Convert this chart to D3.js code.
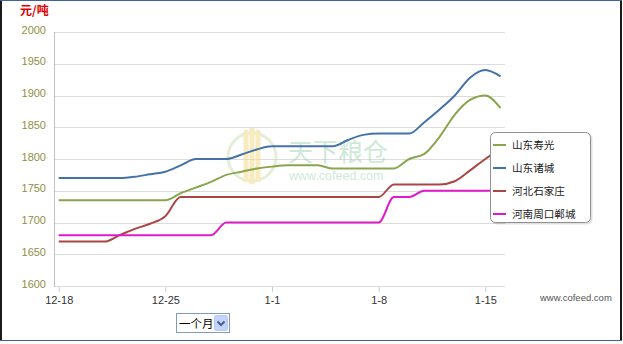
<!DOCTYPE html>
<html>
<head>
<meta charset="utf-8">
<script src="https://cdn.jsdelivr.net/npm/d3@7/dist/d3.min.js"></script>
<style>
    body { margin: 0; background: #fff; }
    text { font-family: "Liberation Sans", Arial, sans-serif; }
    .cjk { font-family: "Noto Sans CJK SC", "Noto Sans", sans-serif; }
</style>
</head>
<body>
<script>
//SVG dimension variables
var w = 623, h = 344;

//daily dates, 12-18 to 1-16
var dates = ["2012-12-18","2012-12-19","2012-12-20","2012-12-21","2012-12-22","2012-12-23","2012-12-24","2012-12-25",
    "2012-12-26","2012-12-27","2012-12-28","2012-12-29","2012-12-30","2012-12-31","2013-01-01","2013-01-02",
    "2013-01-03","2013-01-04","2013-01-05","2013-01-06","2013-01-07","2013-01-08","2013-01-09","2013-01-10",
    "2013-01-11","2013-01-12","2013-01-13","2013-01-14","2013-01-15","2013-01-16"];

//series names and values (元/吨)
var seriesNames = ["山东寿光", "山东诸城", "河北石家庄", "河南周口郸城"];
var shouguang = [1735,1735,1735,1735,1735,1735,1735,1735,1746,1755,1764,1775,1780,1785,1788,1790,
    1790,1790,1785,1785,1785,1785,1785,1800,1808,1835,1870,1893,1900,1880];
var zhucheng = [1770,1770,1770,1770,1770,1772,1776,1780,1790,1800,1800,1800,1807,1815,1820,1820,
    1820,1820,1820,1830,1838,1840,1840,1840,1858,1878,1900,1928,1940,1930];
var shijiazhuang = [1670,1670,1670,1670,1680,1690,1698,1710,1740,1740,1740,1740,1740,1740,1740,1740,
    1740,1740,1740,1740,1740,1740,1760,1760,1760,1760,1765,1782,1800,1815];
var zhoukou = [1680,1680,1680,1680,1680,1680,1680,1680,1680,1680,1680,1700,1700,1700,1700,1700,
    1700,1700,1700,1700,1700,1700,1740,1740,1750,1750,1750,1750,1750,1752];
var seriesValues = [shouguang, zhucheng, shijiazhuang, zhoukou];
var seriesColors = ["#89A54E", "#4572A7", "#AA4643", "#E01ACB"];

//tick labels
var yTicks = [1600,1650,1700,1750,1800,1850,1900,1950,2000];
var xTicks = ["2012-12-18","2012-12-25","2013-01-01","2013-01-08","2013-01-15"];

window.onload = function(){
    var parse = d3.timeParse("%Y-%m-%d");

    var svg = d3.select("body")
        .append("svg")
        .attr("width", w)
        .attr("height", h);

    //outer frame
    svg.append("line").attr("x1", 1).attr("x2", 1).attr("y1", 0).attr("y2", 341)
        .style("stroke", "#1a1a1a").style("stroke-width", 2);
    svg.append("line").attr("x1", 621).attr("x2", 621).attr("y1", 0).attr("y2", 341)
        .style("stroke", "#1a1a1a").style("stroke-width", 2);
    svg.append("line").attr("x1", 0).attr("x2", 622).attr("y1", 0.5).attr("y2", 0.5)
        .style("stroke", "#3d62a0");
    svg.append("line").attr("x1", 0).attr("x2", 622).attr("y1", 340.5).attr("y2", 340.5)
        .style("stroke", "#3d62a0");

    //scales
    var x = d3.scaleTime()
        .domain([parse("2012-12-18"), parse("2013-01-15")])
        .range([58.7, 485.3]);
    var y = d3.scaleLinear()
        .domain([1600, 2000])
        .range([286, 32]);

    //grid lines
    svg.append("g")
        .selectAll("line")
        .data(yTicks)
        .enter()
        .append("line")
        .attr("x1", 54)
        .attr("x2", 505)
        .attr("y1", function(d){ return Math.round(y(d)) + 0.5; })
        .attr("y2", function(d){ return Math.round(y(d)) + 0.5; })
        .style("stroke", "#dcdcdc");

    //y axis
    var yAxis = d3.axisLeft(y)
        .tickValues(yTicks)
        .tickFormat(d3.format("d"))
        .tickSize(0)
        .tickPadding(8);
    var ya = svg.append("g")
        .attr("transform", "translate(54,0)")
        .call(yAxis);
    ya.select(".domain").remove();
    ya.selectAll("text")
        .attr("dy", "0.1em")
        .style("font-size", "11px")
        .style("fill", "#8f8f45");
    svg.append("line")
        .attr("x1", 54.5).attr("x2", 54.5).attr("y1", 32).attr("y2", 287)
        .style("stroke", "#c0c0c0");

    //x axis
    var xAxis = d3.axisBottom(x)
        .tickValues(xTicks.map(parse))
        .tickFormat(d3.timeFormat("%-m-%-d"))
        .tickSize(5)
        .tickPadding(4);
    var xa = svg.append("g")
        .attr("transform", "translate(0,287)")
        .call(xAxis);
    xa.select(".domain").remove();
    xa.selectAll("line").style("stroke", "#c0d0e0");
    xa.selectAll("text")
        .style("font-size", "11px")
        .style("fill", "#333");

    //watermark
    var wm = svg.append("g").style("opacity", 0.55);
    wm.append("circle")
        .attr("cx", 252).attr("cy", 157).attr("r", 24)
        .style("fill", "none").style("stroke", "#cfe3b8").style("stroke-width", 3);
    wm.append("path")
        .attr("d", "M246,130 L246,182 M252,128 L252,184 M258,130 L258,182")
        .style("stroke", "#f2dc8c").style("stroke-width", 5);
    wm.append("text")
        .attr("class", "cjk")
        .attr("x", 288).attr("y", 161)
        .style("font-size", "25px")
        .style("fill", "#a9d8b9")
        .text("天下粮仓");
    wm.append("text")
        .attr("x", 289).attr("y", 180)
        .style("font-size", "12.5px")
        .style("fill", "#a9d8b9")
        .text("www.cofeed.com");

    //lines
    var line = d3.line()
        .x(function(d, i){ return x(parse(dates[i])); })
        .y(function(d){ return y(d); })
        .curve(d3.curveMonotoneX);

    svg.selectAll(".series")
        .data(seriesValues)
        .enter()
        .append("path")
        .attr("class", "series")
        .attr("d", line)
        .style("fill", "none")
        .style("stroke", function(d, i){ return seriesColors[i]; })
        .style("stroke-width", 2);

    //legend
    var lg = svg.append("g").attr("transform", "translate(490,132)");
    lg.append("rect")
        .attr("x", 1.5).attr("y", 1.5)
        .attr("width", 101).attr("height", 91)
        .attr("rx", 5)
        .style("fill", "rgba(0,0,0,0.12)");
    lg.append("rect")
        .attr("x", 0.5).attr("y", 0.5)
        .attr("width", 100).attr("height", 90)
        .attr("rx", 5)
        .style("fill", "#fff")
        .style("stroke", "#909090");
    var items = lg.selectAll(".item")
        .data(seriesNames)
        .enter()
        .append("g")
        .attr("transform", function(d, i){ return "translate(0," + (13 + i * 23) + ")"; });
    items.append("line")
        .attr("x1", 3).attr("x2", 16)
        .style("stroke", function(d, i){ return seriesColors[i]; })
        .style("stroke-width", 2);
    items.append("text")
        .attr("class", "cjk")
        .attr("x", 22)
        .attr("dy", "0.36em")
        .style("font-size", "10.6px")
        .style("fill", "#222")
        .text(function(d){ return d; });

    //unit label
    svg.append("text")
        .attr("class", "cjk")
        .attr("x", 20).attr("y", 15)
        .style("font-size", "12px")
        .style("font-weight", "bold")
        .style("fill", "#e00000")
        .text("元/吨");

    //site label
    svg.append("text")
        .attr("x", 540).attr("y", 301)
        .style("font-size", "9.5px")
        .style("fill", "#555")
        .text("www.cofeed.com");

    //period selector
    var sel = svg.append("g").attr("transform", "translate(176,313)");
    sel.append("rect")
        .attr("x", 0.5).attr("y", 0.5).attr("width", 53).attr("height", 19)
        .style("fill", "#fff").style("stroke", "#7f9db9");
    sel.append("text")
        .attr("class", "cjk")
        .attr("x", 3).attr("y", 14.5)
        .style("font-size", "11.5px")
        .style("fill", "#000")
        .text("一个月");
    sel.append("rect")
        .attr("x", 38.5).attr("y", 2.5).attr("width", 13).attr("height", 15)
        .attr("rx", 2)
        .style("fill", "#c3d3fd").style("stroke", "#b5c8ef");
    sel.append("path")
        .attr("d", "M41.5,8.5 L45,12 L48.5,8.5")
        .style("fill", "none").style("stroke", "#4d6185").style("stroke-width", 2);
};
</script>
</body>
</html>
